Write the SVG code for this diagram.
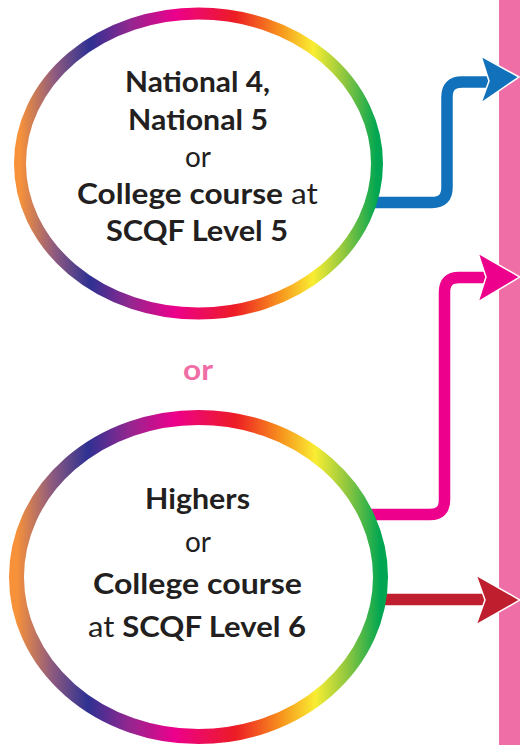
<svg xmlns="http://www.w3.org/2000/svg" width="520" height="745" viewBox="0 0 520 745">
<defs>
<linearGradient id="rainbow" x1="0" y1="0" x2="1" y2="0">
<stop offset="0" stop-color="#f7923a"/>
<stop offset="0.098" stop-color="#8d5a7f"/>
<stop offset="0.196" stop-color="#2e3192"/>
<stop offset="0.308" stop-color="#92278f"/>
<stop offset="0.434" stop-color="#ec008c"/>
<stop offset="0.602" stop-color="#ed1c24"/>
<stop offset="0.728" stop-color="#f7941d"/>
<stop offset="0.821" stop-color="#f9ed32"/>
<stop offset="0.91" stop-color="#8dc63f"/>
<stop offset="1" stop-color="#00a651"/>
</linearGradient>
</defs>
<style>
.node{fill:#fff;stroke:url(#rainbow)}
.t{font-family:Lato,"Open Sans",sans-serif;font-size:28px;fill:#231f20;text-anchor:middle}
.b{font-weight:700}
.r{font-weight:400}
.line{fill:none;stroke-width:11.5;stroke-linejoin:round}
.head{stroke:#fff;stroke-width:1.5;stroke-linejoin:miter}
</style>
<rect id="bar" x="499" y="0" width="21" height="745" fill="#f06ea6"/>
<g id="connectors">
<path class="line" stroke="#1171ba" d="M370 202.5 H432 Q447 202.5 447 187.5 V97 Q447 82 462 82 H492"/>
<polygon class="head" fill="#1171ba" points="519,77 481,56 489,81 481,103"/>
<path class="line" stroke="#ec008c" d="M365 514.5 H430 Q444.5 514.5 444.5 500 V292 Q444.5 277.5 459 277.5 H490"/>
<polygon class="head" fill="#ec008c" points="520,277 478,253 486,277 478,302"/>
<path class="line" stroke="#be1e2d" d="M380 599.5 H490"/>
<polygon class="head" fill="#be1e2d" points="520,600 476,575 485,600 476,625"/>
</g>
<g id="node1">
<ellipse class="node" cx="198.5" cy="163.5" rx="178.5" ry="150" stroke-width="12"/>
<text class="t b" x="197.5" y="92" textLength="145" lengthAdjust="spacingAndGlyphs">National 4,</text>
<text class="t b" x="198" y="129.5" textLength="140" lengthAdjust="spacingAndGlyphs">National 5</text>
<text class="t r" x="198" y="167" textLength="26" lengthAdjust="spacingAndGlyphs">or</text>
<text class="t" x="197.5" y="203.5" textLength="241" lengthAdjust="spacingAndGlyphs"><tspan class="b">College course</tspan><tspan class="r"> at</tspan></text>
<text class="t b" x="197" y="241" textLength="182" lengthAdjust="spacingAndGlyphs">SCQF Level 5</text>
</g>
<text id="or" class="t b" x="198" y="380" style="fill:#f06ea6" textLength="30" lengthAdjust="spacingAndGlyphs">or</text>
<g id="node2">
<ellipse class="node" cx="198.5" cy="577" rx="182" ry="159.5" stroke-width="15"/>
<text class="t b" x="197.5" y="508.5" textLength="105" lengthAdjust="spacingAndGlyphs">Highers</text>
<text class="t r" x="198" y="552" textLength="26" lengthAdjust="spacingAndGlyphs">or</text>
<text class="t b" x="197.5" y="593.5" textLength="209" lengthAdjust="spacingAndGlyphs">College course</text>
<text class="t" x="197" y="637" textLength="218" lengthAdjust="spacingAndGlyphs"><tspan class="r">at </tspan><tspan class="b">SCQF Level 6</tspan></text>
</g>
</svg>
